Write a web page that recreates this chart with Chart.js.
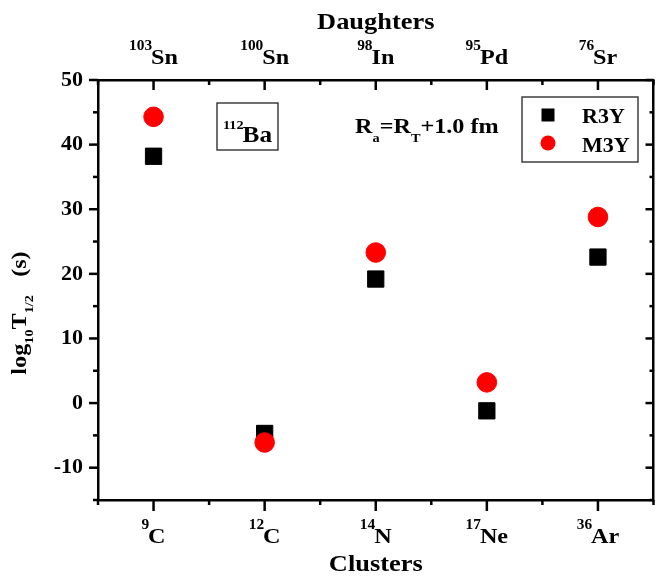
<!DOCTYPE html>
<html>
<head>
<meta charset="utf-8">
<script src="https://cdn.jsdelivr.net/npm/chart.js@4/dist/chart.umd.min.js"></script>
<style>
html,body{margin:0;padding:0;overflow:hidden;background:#fff;}
#wrap{width:666px;height:576px;}
</style>
</head>
<body>
<div id="wrap"><canvas id="c" width="666" height="576"></canvas></div>
<script>
// ---- data ----
const clusters = ['9C', '12C', '14N', '17Ne', '36Ar'];
const daughters = ['103Sn', '100Sn', '98In', '95Pd', '76Sr'];
const r3y = [38.2, -4.7, 19.2, -1.2, 22.6];
const m3y = [44.3, -6.1, 23.3, 3.2, 28.8];
const yMajorTicks = [-10, 0, 10, 20, 30, 40, 50];
const yMinorTicks = [-15, -5, 5, 15, 25, 35, 45];
const yMin = -15, yMax = 50;
const parentNucleus = '112Ba';
const radiusNote = 'Ra=RT+1.0 fm';

const FAMILY = '"Liberation Serif", "Times New Roman", serif';
const SX = 1.1;

function split(lbl) {
  const m = lbl.match(/^(\d+)(\D+)$/);
  return m ? [m[1], m[2]] : ['', lbl];
}

function rich(ctx, parts, x, y, align) {
  let w = 0;
  parts.forEach(p => {
    ctx.font = 'bold ' + p.size + 'px ' + FAMILY;
    p.w = ctx.measureText(p.t).width + (p.kern || 0);
    w += p.w;
  });
  w *= SX;
  const sx = align === 'center' ? x - w / 2 : (align === 'right' ? x - w : x);
  ctx.save();
  ctx.translate(sx, y);
  ctx.scale(SX, 1);
  ctx.textAlign = 'left';
  ctx.textBaseline = 'alphabetic';
  ctx.fillStyle = '#000';
  let px = 0;
  parts.forEach(p => {
    ctx.font = 'bold ' + p.size + 'px ' + FAMILY;
    ctx.fillText(p.t, px, p.dy || 0);
    px += p.w;
  });
  ctx.restore();
}

const decor = {
  id: 'decor',
  afterDraw(chart) {
    const ctx = chart.ctx;
    const a = chart.chartArea;
    const xs = chart.scales.x, ys = chart.scales.y;
    ctx.save();
    ctx.strokeStyle = '#000';
    ctx.lineCap = 'butt';
    const band = xs.getPixelForValue(1) - xs.getPixelForValue(0);
    function line(x1, y1, x2, y2, w) {
      ctx.lineWidth = w;
      ctx.beginPath(); ctx.moveTo(x1, y1); ctx.lineTo(x2, y2); ctx.stroke();
    }
    // x ticks (bottom outward, top inward)
    for (let i = 0; i < clusters.length; i++) {
      const px = xs.getPixelForValue(i);
      line(px, a.bottom, px, a.bottom + 11, 2.5);
      line(px, a.top, px, a.top + 10, 2.5);
    }
    for (let i = 0; i <= clusters.length; i++) {
      const px = xs.getPixelForValue(0) - band / 2 + i * band;
      line(px, a.bottom, px, a.bottom + 5, 2.5);
      line(px, a.top, px, a.top + 5, 2.5);
    }
    // y ticks (left outward, right inward)
    yMajorTicks.forEach(v => {
      const py = ys.getPixelForValue(v);
      line(a.left - 9, py, a.left, py, 2.5);
      line(a.right - 8, py, a.right, py, 2.5);
    });
    yMinorTicks.forEach(v => {
      const py = ys.getPixelForValue(v);
      line(a.left - 5, py, a.left, py, 2.5);
      line(a.right - 4, py, a.right, py, 2.5);
    });

    // x tick labels
    clusters.forEach((c, i) => {
      const [m, s] = split(c);
      rich(ctx, [{t: m, size: 14, dy: -14, kern: -1}, {t: s, size: 22}], xs.getPixelForValue(i), a.bottom + 43, 'center');
    });
    daughters.forEach((d, i) => {
      const [m, s] = split(d);
      rich(ctx, [{t: m, size: 14, dy: -14, kern: -1}, {t: s, size: 22}], xs.getPixelForValue(i), a.top - 16, 'center');
    });
    const cx = (a.left + a.right) / 2;
    rich(ctx, [{t: 'Clusters', size: 24}], cx, a.bottom + 71, 'center');
    rich(ctx, [{t: 'Daughters', size: 24}], cx, a.top - 51, 'center');

    // y title
    ctx.save();
    ctx.translate(a.left - 72, (a.top + a.bottom) / 2 + 23);
    ctx.rotate(-Math.PI / 2);
    rich(ctx, [{t: 'log', size: 22}, {t: '10', size: 13, dy: 7}, {t: 'T', size: 22},
               {t: '1/2', size: 13, dy: 7}, {t: '   (s)', size: 22}], 0, 0, 'center');
    ctx.restore();

    // parent nucleus box
    const bx = a.left + 119, by = a.top + 23, bw = 61, bh = 47;
    ctx.lineWidth = 1.3; ctx.strokeStyle = '#222';
    ctx.strokeRect(bx, by, bw, bh);
    const [pm, ps] = split(parentNucleus);
    rich(ctx, [{t: pm, size: 13, dy: -13, kern: -1}, {t: ps, size: 23}], bx + bw / 2, by + 39, 'center');

    // radius note
    const rp = radiusNote.match(/^R(\w)=R(\w)(.*)$/);
    rich(ctx, [{t: 'R', size: 22}, {t: rp[1], size: 13, dy: 9}, {t: '=R', size: 22},
               {t: rp[2], size: 13, dy: 9}, {t: rp[3], size: 22}], a.left + 257, a.top + 53, 'left');

    // legend
    const lx = a.left + 424, ly = a.top + 17, lw = 116, lh = 65;
    ctx.lineWidth = 1.3; ctx.strokeStyle = '#222';
    ctx.strokeRect(lx, ly, lw, lh);
    const ds = chart.data.datasets;
    ctx.fillStyle = ds[0].backgroundColor;
    ctx.fillRect(lx + 19.5, ly + 11.5, 13, 13);
    rich(ctx, [{t: ds[0].label, size: 20}], lx + 60, ly + 26, 'left');
    ctx.fillStyle = ds[1].backgroundColor;
    ctx.beginPath(); ctx.arc(lx + 26, ly + 46, 7.5, 0, Math.PI * 2); ctx.fill();
    rich(ctx, [{t: ds[1].label, size: 20}], lx + 60, ly + 55, 'left');
    ctx.restore();
  }
};

const borderOpts = {display: true, color: '#000', width: 2.5};

new Chart(document.getElementById('c'), {
  type: 'line',
  data: {
    labels: clusters,
    datasets: [
      {label: 'R3Y', data: r3y, showLine: false, pointStyle: 'rect', pointRadius: 11.5,
       backgroundColor: '#000', borderColor: '#000', borderWidth: 1, order: 2},
      {label: 'M3Y', data: m3y, showLine: false, pointStyle: 'circle', pointRadius: 9.8,
       backgroundColor: '#ff0000', borderColor: '#ff0000', borderWidth: 1, order: 1}
    ]
  },
  options: {
    responsive: false,
    animation: false,
    devicePixelRatio: 1,
    layout: {padding: 0},
    plugins: {legend: {display: false}, tooltip: {enabled: false}, title: {display: false}},
    scales: {
      x: {type: 'category', position: 'bottom', offset: true,
          grid: {display: false, drawTicks: false}, ticks: {display: false}, border: borderOpts,
          afterFit(s) { s.height = 76; }},
      x2: {type: 'category', labels: daughters, position: 'top', offset: true,
           grid: {display: false, drawTicks: false}, ticks: {display: false}, border: borderOpts,
           afterFit(s) { s.height = 80; }},
      y: {type: 'linear', position: 'left', min: yMin, max: yMax,
          grid: {display: false, drawTicks: true, tickLength: 9},
          ticks: {color: '#000', padding: 6, font: {family: FAMILY, size: 22, weight: 'bold'}},
          afterBuildTicks(s) { s.ticks = yMajorTicks.map(v => ({value: v})); },
          border: borderOpts,
          afterFit(s) { s.width = 98; }},
      y2: {type: 'linear', position: 'right', min: yMin, max: yMax,
           grid: {display: false, drawTicks: false}, ticks: {display: false}, border: borderOpts,
           afterFit(s) { s.width = 3; }}
    }
  },
  plugins: [decor]
});
</script>
</body>
</html>
